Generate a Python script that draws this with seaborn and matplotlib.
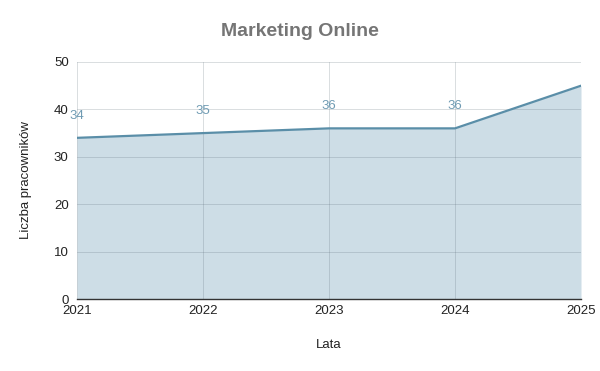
import matplotlib
matplotlib.use("Agg")
import matplotlib.pyplot as plt
import seaborn as sns
import pandas as pd

years = [2021, 2022, 2023, 2024, 2025]
employees = [34, 35, 36, 36, 45]
shown_labels = [True, True, True, True, False]
y_ticks = [0, 10, 20, 30, 40, 50]

sns.set_theme(style="whitegrid")
plt.rcParams['font.family'] = ['Liberation Sans', 'DejaVu Sans']

df = pd.DataFrame({"Lata": years, "Liczba pracowników": employees})

fig = plt.figure(figsize=(6.0, 3.71), dpi=100)
ax = fig.add_axes([77/600, 1 - 299/371, (581-77)/600, (299-62)/371])

line_color = "#5a8ea8"
fill_color = "#cddde6"

ax.fill_between(df["Lata"], df["Liczba pracowników"], 0, color=fill_color, zorder=1, linewidth=0)
sns.lineplot(data=df, x="Lata", y="Liczba pracowników", ax=ax, color=line_color, linewidth=1.6, zorder=3)

for x, y, s in zip(years, employees, shown_labels):
    if s:
        ax.annotate(str(y), (x, y), xytext=(0, 22), textcoords="offset pixels",
                    ha="center", va="center", fontsize=9.5, color="#6f9bb3", zorder=4)

ax.set_xlim(years[0], years[-1])
ax.set_ylim(0, 50)
ax.set_xticks(years)
ax.set_xticklabels([str(y) for y in years])
ax.set_yticks(y_ticks)
ax.grid(True, color="#5a6a75", alpha=0.22, linewidth=0.72, zorder=2)
ax.set_axisbelow(False)
for sp in ["top", "right", "left"]:
    ax.spines[sp].set_visible(False)
ax.spines["bottom"].set_visible(True)
ax.spines["bottom"].set_color("#333333")
ax.spines["bottom"].set_linewidth(1)
ax.spines["bottom"].set_zorder(5)
ax.tick_params(axis="both", length=0, labelsize=9.5, colors="#222222", pad=4)
ax.tick_params(axis="y", pad=6)

ax.set_xlabel("Lata", fontsize=9.5, color="#222222", labelpad=16)
ax.set_ylabel("Liczba pracowników", fontsize=9.5, color="#222222", labelpad=16)
fig.suptitle("Marketing Online", x=0.5, y=1 - 31/371, va="center", fontsize=14,
             fontweight="bold", color="#757575")

fig.savefig("out.png", dpi=100)
